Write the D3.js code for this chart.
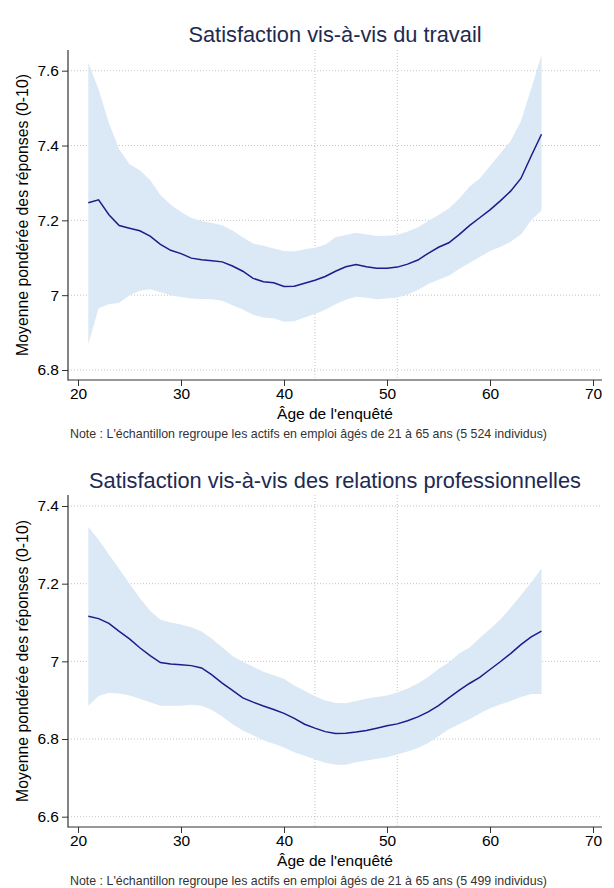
<!DOCTYPE html>
<html><head><meta charset="utf-8">
<script src="https://cdn.jsdelivr.net/npm/d3@7"></script>
<style>body{margin:0;background:#fff}svg{display:block}</style>
</head><body>
<svg id="c" width="614" height="888"></svg>
<script>
const ages = d3.range(21, 66);
const xTicks = [20, 30, 40, 50, 60, 70];
const refAges = [43, 51];

const title1 = "Satisfaction vis-à-vis du travail";
const yTicks1 = [6.8, 7, 7.2, 7.4, 7.6];
const mean1 = [7.247,7.255,7.215,7.186,7.179,7.172,7.158,7.136,7.120,7.111,7.099,7.095,7.092,7.089,7.078,7.064,7.045,7.036,7.033,7.023,7.024,7.032,7.040,7.050,7.064,7.076,7.082,7.076,7.072,7.072,7.075,7.083,7.094,7.112,7.128,7.140,7.162,7.186,7.207,7.228,7.252,7.278,7.312,7.372,7.430];
const upper1 = [7.622,7.550,7.460,7.390,7.350,7.334,7.308,7.268,7.242,7.222,7.206,7.198,7.193,7.187,7.173,7.155,7.138,7.132,7.125,7.118,7.117,7.123,7.127,7.135,7.155,7.161,7.167,7.162,7.158,7.159,7.161,7.170,7.181,7.198,7.214,7.232,7.258,7.290,7.312,7.345,7.379,7.412,7.465,7.552,7.642];
const lower1 = [6.869,6.965,6.976,6.980,7.000,7.012,7.016,7.008,7.000,6.995,6.991,6.990,6.989,6.985,6.973,6.962,6.948,6.940,6.938,6.929,6.930,6.940,6.950,6.961,6.976,6.988,6.996,6.993,6.989,6.991,6.994,7.002,7.014,7.030,7.041,7.052,7.070,7.086,7.102,7.118,7.129,7.143,7.162,7.200,7.226];
const note1 = "Note : L'échantillon regroupe les actifs en emploi âgés de 21 à 65 ans (5 524 individus)";

const title2 = "Satisfaction vis-à-vis des relations professionnelles";
const yTicks2 = [6.6, 6.8, 7, 7.2, 7.4];
const mean2 = [7.116,7.110,7.098,7.077,7.058,7.035,7.015,6.997,6.993,6.991,6.989,6.983,6.965,6.944,6.925,6.906,6.895,6.885,6.876,6.866,6.853,6.838,6.828,6.819,6.814,6.815,6.818,6.822,6.828,6.834,6.839,6.847,6.857,6.870,6.886,6.906,6.925,6.943,6.959,6.979,6.999,7.020,7.043,7.063,7.078];
const upper2 = [7.346,7.313,7.275,7.238,7.200,7.163,7.130,7.107,7.100,7.095,7.088,7.077,7.058,7.036,7.014,6.999,6.986,6.973,6.964,6.955,6.938,6.924,6.910,6.899,6.893,6.892,6.898,6.904,6.908,6.912,6.920,6.930,6.943,6.960,6.980,6.997,7.020,7.035,7.060,7.083,7.108,7.138,7.170,7.203,7.239];
const lower2 = [6.886,6.911,6.919,6.917,6.912,6.904,6.895,6.886,6.886,6.886,6.888,6.886,6.875,6.858,6.838,6.822,6.810,6.797,6.788,6.778,6.766,6.757,6.748,6.739,6.734,6.734,6.740,6.745,6.749,6.753,6.760,6.768,6.777,6.790,6.807,6.825,6.838,6.851,6.866,6.879,6.889,6.898,6.908,6.916,6.916];
const note2 = "Note : L'échantillon regroupe les actifs en emploi âgés de 21 à 65 ans (5 499 individus)";

const yLabel = "Moyenne pondérée des réponses (0-10)";
const xLabel = "Âge de l'enquêté";

const svg = d3.select("#c");
const FONT = "'Liberation Sans', Arial, Helvetica, sans-serif";

function panel(o) {
  const g = svg.append("g");
  const left = 68, right = 602;
  const x = d3.scaleLinear().domain([20, 70]).range([78, 593]);
  const y = d3.scaleLinear().domain([o.yTicks[0], o.yTicks[o.yTicks.length-1]]).range([o.yBot, o.yTop]);
  const data = ages.map((a, i) => ({a, m: o.mean[i], u: o.upper[i], l: o.lower[i]}));

  g.selectAll(".hg").data(o.yTicks).join("line")
    .attr("x1", left).attr("x2", right).attr("y1", d => y(d)).attr("y2", d => y(d))
    .attr("stroke", "#b4b4b4").attr("stroke-width", 0.8).attr("stroke-dasharray", "1,2");
  g.selectAll(".vg").data(refAges).join("line")
    .attr("x1", d => x(d)).attr("x2", d => x(d)).attr("y1", o.top).attr("y2", o.bottom)
    .attr("stroke", "#b4b4b4").attr("stroke-width", 0.8).attr("stroke-dasharray", "1,2");

  g.append("path").datum(data)
    .attr("d", d3.area().x(d => x(d.a)).y0(d => y(d.l)).y1(d => y(d.u)))
    .attr("fill", "#dbe8f5");
  g.append("path").datum(data)
    .attr("d", d3.line().x(d => x(d.a)).y(d => y(d.m)))
    .attr("fill", "none").attr("stroke", "#1c1c8a").attr("stroke-width", 1.5);

  const ya = g.append("g").attr("transform", `translate(${left},0)`)
    .call(d3.axisLeft(y).tickValues(o.yTicks).tickSize(6).tickPadding(3).tickFormat(d3.format("~g")));
  ya.select(".domain").remove();
  const xa = g.append("g").attr("transform", `translate(0,${o.bottom})`)
    .call(d3.axisBottom(x).tickValues(xTicks).tickSize(6).tickPadding(2).tickFormat(d3.format("d")));
  xa.select(".domain").remove();
  [ya, xa].forEach(a => {
    a.selectAll("text").attr("font-family", FONT).attr("font-size", 15.5).attr("fill", "#000");
    a.selectAll("line").attr("stroke", "#333");
  });
  g.append("line").attr("x1", left).attr("x2", left).attr("y1", o.top).attr("y2", o.bottom + 0.5)
    .attr("stroke", "#333").attr("stroke-width", 1.2);
  g.append("line").attr("x1", left).attr("x2", right).attr("y1", o.bottom).attr("y2", o.bottom)
    .attr("stroke", "#333").attr("stroke-width", 1.2);

  g.append("text").attr("x", 335).attr("y", o.titleY).attr("text-anchor", "middle")
    .attr("font-family", FONT).attr("font-size", 21.8).attr("fill", "#1e2a52").text(o.title);
  g.append("text").attr("transform", `translate(22,${(o.top + o.bottom) / 2}) rotate(-90)`)
    .attr("text-anchor", "middle").attr("dominant-baseline", "central")
    .attr("font-family", FONT).attr("font-size", 15.8).attr("fill", "#000").text(yLabel);
  g.append("text").attr("x", 335).attr("y", o.bottom + 39).attr("text-anchor", "middle")
    .attr("font-family", FONT).attr("font-size", 15.5).attr("fill", "#000").text(xLabel);
  g.append("text").attr("x", 70).attr("y", o.bottom + 58).attr("text-anchor", "start")
    .attr("font-family", FONT).attr("font-size", 12.4).attr("fill", "#333").text(o.note);
}

panel({title: title1, yTicks: yTicks1, mean: mean1, upper: upper1, lower: lower1, note: note1,
  top: 50, bottom: 380, yTop: 70.7, yBot: 370, titleY: 42});
panel({title: title2, yTicks: yTicks2, mean: mean2, upper: upper2, lower: lower2, note: note2,
  top: 495, bottom: 827, yTop: 506, yBot: 816.7, titleY: 488});
</script>
</body></html>
